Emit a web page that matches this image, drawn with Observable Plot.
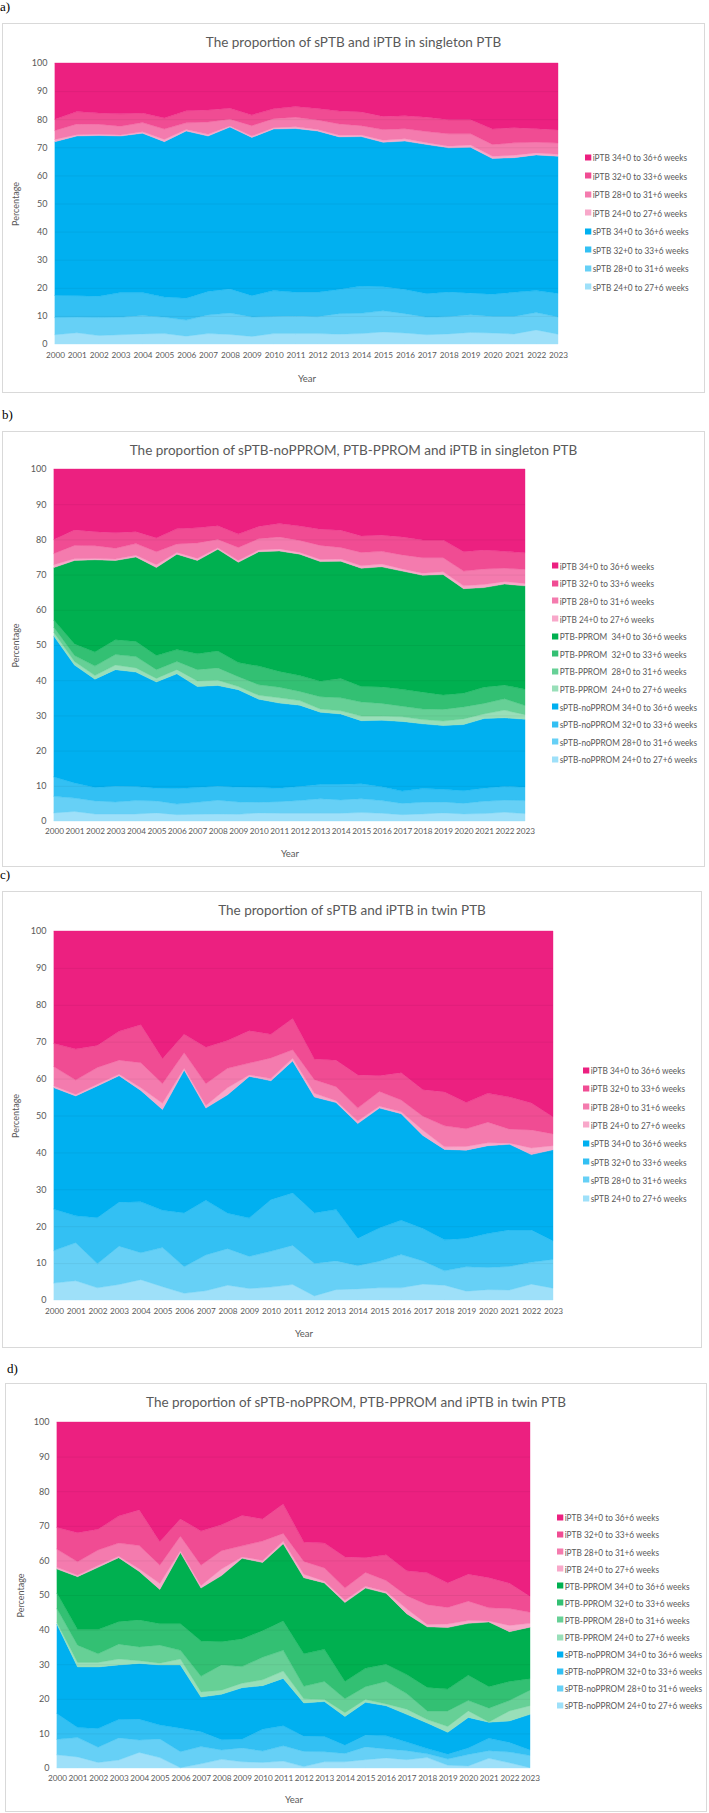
<!DOCTYPE html>
<html>
<head>
<meta charset="utf-8">
<script src="https://cdn.jsdelivr.net/npm/d3@7"></script>
<script src="https://cdn.jsdelivr.net/npm/@observablehq/plot@0.6"></script>
<style>
  body { margin: 0; background: #fff; }
  #page { position: relative; width: 709px; height: 1813px; overflow: hidden; font-family: Lato, "Open Sans", sans-serif; color: #595959; }
  .tag { position: absolute; font-family: "Liberation Serif", "DejaVu Serif", serif; font-size: 13px; color: #000; line-height: 14px; }
  .box { position: absolute; border: 1px solid #d9d9d9; box-sizing: border-box; }
  .title { position: absolute; transform: translate(-50%, -50%); font-size: 13.5px; white-space: nowrap; color: #595959; }
  .leg { position: absolute; font-size: 9.2px; white-space: pre; transform: translateY(-50%) scaleX(0.9); transform-origin: 0 50%; display: flex; align-items: center; color: #595959; }
  .sw { display: inline-block; width: 6.5px; height: 6px; margin-right: 2px; }
</style>
</head>
<body>
<div id="page"></div>
<script>
// Years on the x axis
const years = [2000, 2001, 2002, 2003, 2004, 2005, 2006, 2007, 2008, 2009, 2010, 2011,
               2012, 2013, 2014, 2015, 2016, 2017, 2018, 2019, 2020, 2021, 2022, 2023];
const yTicks = [0, 10, 20, 30, 40, 50, 60, 70, 80, 90, 100];

// ---- Singleton PTB: share of all preterm births (%) ----
const singleton_sPTB_24 = [3.3, 4.0, 3.0, 3.3, 3.6, 3.7, 2.8, 3.7, 3.4, 2.7, 3.7, 3.7, 3.7, 3.5, 3.7, 4.3, 3.9, 3.3, 3.6, 4.1, 3.9, 3.6, 5.0, 3.5];
const singleton_sPTB_28 = [6.1, 5.5, 6.4, 6.2, 6.5, 5.8, 5.7, 6.6, 7.6, 6.9, 6.1, 6.3, 6.0, 7.3, 7.2, 7.5, 6.9, 6.2, 6.1, 6.3, 5.9, 6.2, 6.2, 6.1];
const singleton_sPTB_32 = [7.9, 7.7, 7.6, 8.8, 8.2, 7.2, 7.8, 8.4, 8.6, 7.6, 9.2, 8.4, 8.7, 8.6, 9.7, 8.6, 8.6, 8.4, 8.8, 7.7, 7.9, 8.6, 7.8, 8.4];
const singleton_sPTB_34 = [54.7, 56.8, 57.2, 55.7, 56.7, 55.3, 59.5, 55.3, 57.6, 56.3, 57.5, 58.3, 57.4, 54.3, 53.2, 51.4, 52.8, 53.1, 51.3, 51.9, 48.3, 47.9, 48.3, 48.8];

const singleton_noPPROM_24 = [2.3, 2.7, 2.0, 2.0, 2.0, 2.3, 1.8, 1.9, 2.0, 1.9, 2.3, 2.2, 2.2, 2.2, 2.2, 2.4, 2.2, 1.8, 2.0, 2.3, 2.0, 2.1, 2.5, 2.1];
const singleton_noPPROM_28 = [4.7, 3.8, 3.7, 3.4, 3.8, 3.4, 3.0, 3.4, 3.9, 3.5, 3.0, 3.3, 3.6, 4.1, 3.8, 3.9, 3.6, 3.2, 3.3, 3.1, 3.0, 3.5, 3.4, 3.7];
const singleton_noPPROM_32 = [5.5, 4.3, 3.8, 4.5, 4.0, 3.6, 4.4, 4.2, 4.0, 4.2, 4.2, 3.8, 4.0, 4.1, 4.4, 4.3, 3.9, 3.5, 3.9, 3.6, 3.6, 3.7, 3.9, 3.8];
const singleton_noPPROM_34 = [40.0, 33.5, 30.8, 33.1, 32.5, 30.2, 32.6, 28.7, 28.6, 27.7, 25.1, 24.2, 23.1, 20.5, 20.0, 17.9, 18.9, 19.8, 18.4, 18.1, 18.8, 19.8, 19.5, 19.3];
const singleton_PPROM_24 = [1.0, 1.0, 1.0, 1.3, 1.2, 1.0, 1.2, 1.6, 1.5, 0.9, 1.1, 1.5, 1.3, 0.9, 0.9, 1.3, 1.2, 1.3, 1.2, 1.3, 1.6, 1.3, 2.2, 1.3];
const singleton_PPROM_28 = [1.5, 1.7, 2.7, 3.0, 3.2, 2.5, 2.3, 3.2, 3.5, 2.8, 3.0, 3.0, 2.6, 3.5, 3.7, 4.0, 3.6, 3.0, 3.0, 3.3, 3.4, 3.0, 3.2, 2.6];
const singleton_PPROM_32 = [2.0, 3.3, 4.0, 4.2, 4.3, 4.0, 3.4, 4.5, 4.8, 4.0, 5.3, 4.5, 4.5, 4.4, 5.5, 4.4, 4.7, 4.8, 4.8, 4.1, 3.9, 4.6, 3.9, 4.6];
const singleton_PPROM_34 = [15.0, 23.7, 26.2, 22.5, 24.0, 25.0, 27.1, 26.5, 28.9, 28.5, 32.5, 34.2, 34.5, 34.0, 33.3, 33.6, 34.1, 33.6, 33.2, 34.2, 29.7, 28.3, 28.7, 29.4];

const singleton_iPTB_24 = [0.8, 0.5, 0.4, 0.4, 0.5, 0.8, 0.5, 0.6, 0.4, 0.5, 0.5, 0.6, 0.5, 0.6, 0.6, 0.7, 0.8, 0.6, 0.6, 0.8, 0.8, 0.9, 0.7, 0.7];
const singleton_iPTB_28 = [3.2, 3.8, 3.6, 3.1, 3.3, 3.7, 2.4, 4.4, 2.4, 3.7, 3.2, 3.4, 3.4, 4.0, 3.3, 3.8, 3.6, 4.0, 4.4, 4.0, 4.2, 4.4, 3.8, 4.0];
const singleton_iPTB_32 = [4.0, 4.4, 4.0, 4.4, 3.4, 3.9, 4.3, 4.3, 3.9, 3.8, 3.5, 3.8, 4.1, 4.6, 4.9, 4.7, 4.6, 5.1, 5.0, 5.0, 5.5, 5.4, 4.8, 4.7];
const singleton_iPTB_34 = [20.0, 17.3, 17.8, 18.1, 17.8, 19.6, 17.0, 16.7, 16.1, 18.5, 16.3, 15.5, 16.2, 17.1, 17.4, 19.0, 18.8, 19.3, 20.2, 20.2, 23.5, 23.0, 23.4, 23.8];

// ---- Twin PTB: share of all preterm births (%) ----
const twin_sPTB_24 = [4.6, 5.2, 3.3, 4.2, 5.5, 3.6, 1.8, 2.5, 4.0, 3.1, 3.5, 4.2, 1.1, 2.8, 3.0, 3.3, 3.3, 4.3, 4.0, 2.4, 2.8, 2.7, 4.3, 3.2];
const twin_sPTB_28 = [8.8, 10.3, 6.5, 10.4, 7.3, 10.6, 7.2, 9.7, 9.9, 8.7, 9.7, 10.6, 8.8, 7.8, 6.3, 7.2, 9.0, 6.3, 3.9, 6.6, 6.0, 6.4, 5.9, 7.8];
const twin_sPTB_32 = [11.2, 7.3, 12.5, 11.9, 13.8, 10.1, 14.6, 14.8, 9.6, 10.4, 14.0, 14.2, 13.7, 13.9, 7.4, 9.0, 9.3, 8.8, 8.4, 7.7, 9.2, 9.9, 8.8, 5.0];
const twin_sPTB_34 = [32.9, 32.5, 35.7, 34.3, 30.2, 27.3, 38.7, 25.0, 32.1, 38.4, 32.2, 35.8, 31.4, 29.0, 31.1, 32.5, 28.9, 25.2, 24.5, 23.9, 23.8, 23.2, 20.4, 24.7];

const twin_noPPROM_24 = [3.8, 3.2, 1.6, 2.3, 4.5, 3.0, 0.1, 1.2, 2.5, 1.8, 1.6, 2.0, 0.4, 1.8, 1.8, 2.4, 2.9, 2.4, 3.0, 0.8, 0.6, 2.8, 1.5, 0.1];
const twin_noPPROM_28 = [4.5, 5.6, 4.4, 6.4, 3.6, 5.4, 4.6, 5.0, 2.7, 4.0, 3.3, 4.4, 4.4, 2.9, 2.4, 3.7, 2.6, 2.6, 1.1, 1.8, 3.3, 2.2, 3.1, 3.5];
const twin_noPPROM_32 = [7.4, 2.9, 5.4, 5.3, 6.0, 4.0, 6.8, 4.3, 3.0, 2.5, 6.3, 5.8, 4.4, 4.4, 2.4, 3.4, 3.8, 2.5, 1.5, 1.4, 1.9, 3.6, 2.8, 1.6];
const twin_noPPROM_34 = [25.8, 17.5, 17.8, 15.8, 16.1, 17.4, 18.3, 10.0, 13.1, 14.9, 12.6, 13.7, 9.6, 10.1, 8.3, 9.5, 8.7, 8.0, 7.4, 6.3, 8.8, 4.6, 6.2, 10.3];
const twin_PPROM_24 = [0.5, 1.3, 1.3, 1.7, 0.8, 0.5, 1.7, 1.5, 1.2, 1.3, 1.7, 2.1, 1.2, 0.6, 1.1, 0.8, 0.5, 1.5, 1.0, 1.7, 1.9, 0.1, 2.9, 2.5];
const twin_PPROM_28 = [4.0, 5.0, 2.5, 4.3, 4.0, 5.2, 2.5, 4.5, 7.3, 4.8, 6.5, 6.0, 3.6, 5.2, 4.0, 3.7, 6.5, 4.5, 2.5, 4.5, 3.0, 4.0, 3.0, 4.5];
const twin_PPROM_32 = [4.5, 4.5, 7.0, 6.5, 7.8, 6.2, 7.7, 10.2, 6.7, 8.0, 7.7, 8.5, 9.4, 9.3, 5.0, 5.3, 5.0, 5.5, 6.8, 6.3, 7.3, 6.2, 5.5, 3.3];
const twin_PPROM_34 = [7.0, 15.3, 18.0, 18.5, 14.0, 9.9, 20.6, 15.3, 19.1, 23.3, 19.7, 22.3, 22.0, 19.2, 22.8, 23.2, 20.5, 17.6, 17.5, 17.8, 15.0, 18.7, 14.4, 14.9];

const twin_iPTB_24 = [0.5, 0.4, 0.5, 0.4, 0.7, 1.7, 0.5, 0.7, 1.9, 0.4, 0.6, 0.7, 1.0, 0.5, 0.7, 0.5, 0.5, 1.4, 0.7, 1.0, 0.8, 0.3, 1.8, 1.1];
const twin_iPTB_28 = [5.2, 3.9, 4.5, 3.8, 6.8, 5.3, 4.2, 5.9, 5.3, 3.2, 5.6, 2.3, 3.7, 3.8, 3.5, 4.0, 3.2, 3.8, 5.7, 4.8, 5.6, 3.8, 4.9, 3.2];
const twin_iPTB_32 = [6.3, 8.4, 6.0, 7.8, 10.3, 6.8, 5.0, 9.9, 7.5, 8.8, 6.4, 8.5, 5.6, 7.2, 9.0, 4.3, 7.4, 7.2, 9.2, 7.1, 7.8, 8.7, 7.3, 4.6];
const twin_iPTB_34 = [30.5, 32.0, 31.0, 27.2, 25.4, 34.6, 28.0, 31.5, 29.7, 27.0, 28.0, 23.7, 34.7, 35.0, 39.0, 39.2, 38.4, 43.0, 43.6, 46.5, 44.0, 45.0, 46.6, 50.4];

// Gestational-age bands and colour ramps (lightest = earliest band)
const bands = ["24+0 to 27+6 weeks", "28+0 to 31+6 weeks", "32+0 to 33+6 weeks", "34+0 to 36+6 weeks"];
const blues  = ["#9ee0f9", "#66d0f6", "#33c0f3", "#00b0f0"];
const greens = ["#99dfb9", "#66d096", "#33c073", "#00b050"];
const pinks  = ["#f8a8ca", "#f47bae", "#f04c93", "#ec2080"];

// One group of four stacked bands
const group = (prefix, vals, colors) => vals.map((v, i) => ({name: `${prefix} ${bands[i]}`, values: v, color: colors[i]}));

const singleIPTB = group("iPTB", [singleton_iPTB_24, singleton_iPTB_28, singleton_iPTB_32, singleton_iPTB_34], pinks);
const twinIPTB = group("iPTB", [twin_iPTB_24, twin_iPTB_28, twin_iPTB_32, twin_iPTB_34], pinks);

const panels = [
  {
    tag: "a)", tagPos: [0, 0], box: [2, 23, 705, 393],
    title: "The proportion of sPTB and iPTB in singleton PTB",
    plot: [55, 558, 63, 344], tickPad: 8, yearOff: 37, pctOff: 43,
    legend: [585, 157, 18.5],
    series: [...group("sPTB", [singleton_sPTB_24, singleton_sPTB_28, singleton_sPTB_32, singleton_sPTB_34], blues), ...singleIPTB]
  },
  {
    tag: "b)", tagPos: [2, 408], box: [2, 431, 705, 867],
    title: "The proportion of sPTB-noPPROM, PTB-PPROM and iPTB in singleton PTB",
    plot: [54, 525, 469, 821], tickPad: 7, yearOff: 35, pctOff: 42,
    legend: [552, 565.7, 17.6],
    series: [
      ...group("sPTB-noPPROM", [singleton_noPPROM_24, singleton_noPPROM_28, singleton_noPPROM_32, singleton_noPPROM_34], blues),
      ...group("PTB-PPROM ", [singleton_PPROM_24, singleton_PPROM_28, singleton_PPROM_32, singleton_PPROM_34], greens),
      ...singleIPTB
    ]
  },
  {
    tag: "c)", tagPos: [0, 868], box: [2, 891, 702, 1348],
    title: "The proportion of sPTB and iPTB in twin PTB",
    plot: [54, 553, 931, 1300], tickPad: 8, yearOff: 36, pctOff: 42,
    legend: [583, 1070, 18.3],
    series: [...group("sPTB", [twin_sPTB_24, twin_sPTB_28, twin_sPTB_32, twin_sPTB_34], blues), ...twinIPTB]
  },
  {
    tag: "d)", tagPos: [7, 1362], box: [5, 1383, 707, 1812],
    title: "The proportion of sPTB-noPPROM, PTB-PPROM and iPTB in twin PTB",
    plot: [57, 530, 1422, 1768], tickPad: 6.5, yearOff: 34, pctOff: 40,
    legend: [557, 1517.3, 17.1],
    series: [
      ...group("sPTB-noPPROM", [twin_noPPROM_24, twin_noPPROM_28, twin_noPPROM_32, twin_noPPROM_34], blues),
      ...group("PTB-PPROM", [twin_PPROM_24, twin_PPROM_28, twin_PPROM_32, twin_PPROM_34], greens),
      ...twinIPTB
    ]
  }
];

const page = document.getElementById("page");

function el(cls, css, text) {
  const d = document.createElement("div");
  d.className = cls;
  Object.assign(d.style, css);
  if (text != null) d.textContent = text;
  page.appendChild(d);
  return d;
}

for (const p of panels) {
  const [bl, bt, br, bb] = p.box;
  el("box", {left: bl + "px", top: bt + "px", width: (br - bl) + "px", height: (bb - bt) + "px"});
  el("tag", {left: p.tagPos[0] + "px", top: p.tagPos[1] + "px"}, p.tag);
  el("title", {left: ((bl + br) / 2) + "px", top: (bt + 19) + "px"}, p.title);

  // long-format rows for the stacked areas
  const names = p.series.map(s => s.name);
  const rows = [];
  for (const s of p.series) s.values.forEach((v, i) => rows.push({year: years[i], series: s.name, value: v}));

  const [L, R, T, B] = p.plot;
  const mt = 10, mb = 46;
  const chart = Plot.plot({
    width: R + 10,
    height: (B - T) + mt + mb,
    marginLeft: L, marginRight: 10, marginTop: mt, marginBottom: mb,
    style: {fontFamily: "Lato, 'Open Sans', sans-serif", fontSize: "9.5px", color: "#595959", background: "transparent", overflow: "visible"},
    x: {domain: [2000, 2023]},
    y: {domain: [0, 100]},
    color: {domain: names, range: p.series.map(s => s.color)},
    marks: [
      Plot.areaY(rows, {x: "year", y: "value", z: "series", fill: "series", stroke: "series", strokeWidth: 0.4, order: names}),
      Plot.gridY(yTicks.slice(1, -1), {stroke: "#000", strokeOpacity: 0.05}),
      Plot.axisY(yTicks, {tickSize: 0, tickPadding: 8, fontSize: 9, label: "Percentage", labelAnchor: "center", labelArrow: "none", labelOffset: p.pctOff}),
      Plot.axisX(years, {tickSize: 0, tickPadding: p.tickPad, fontSize: 8.2, tickFormat: d => String(d), label: null}),
      Plot.axisX([], {tickSize: 0, label: "Year", labelAnchor: "center", labelArrow: "none", labelOffset: p.yearOff})
    ]
  });
  Object.assign(chart.style, {position: "absolute", left: "0px", top: (T - mt) + "px"});
  page.appendChild(chart);

  // legend, top row = top of the stack
  const [lx, ly, ldy] = p.legend;
  p.series.slice().reverse().forEach((s, i) => {
    const item = el("leg", {left: lx + "px", top: (ly + i * ldy) + "px"});
    const sw = document.createElement("span");
    sw.className = "sw";
    sw.style.background = s.color;
    item.appendChild(sw);
    item.appendChild(document.createTextNode(s.name));
  });
}
</script>
</body>
</html>
